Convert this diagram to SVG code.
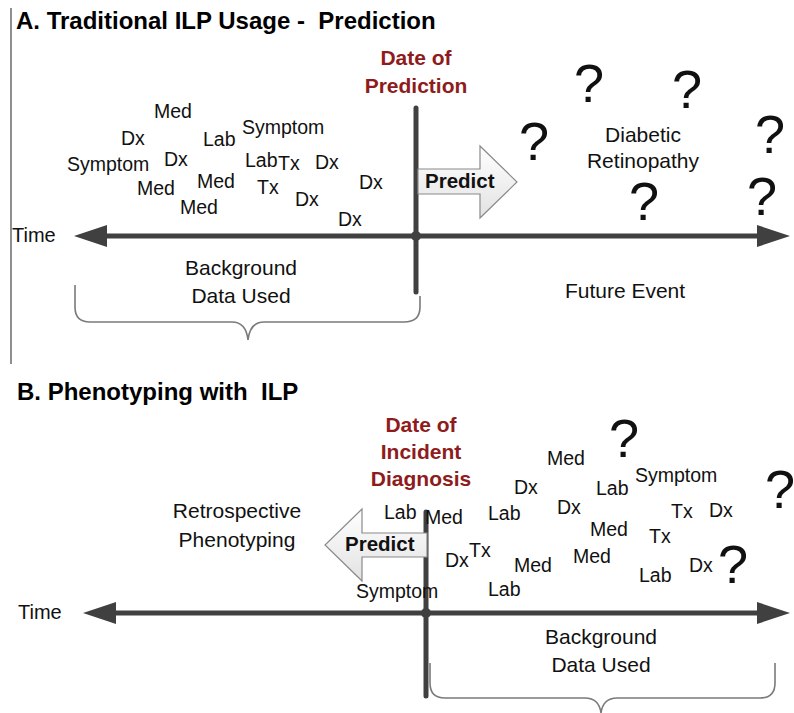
<svg xmlns="http://www.w3.org/2000/svg" width="794" height="713" viewBox="0 0 794 713">
<style>
text{font-family:"Liberation Sans",Arial,sans-serif;fill:#111}
.title{font-size:24px;font-weight:bold;fill:#000}
.w{font-size:19.5px}
.lbl{font-size:21px;text-anchor:middle}
.date{font-size:21px;font-weight:bold;fill:#8e1c1c;text-anchor:middle}
.q{font-size:54px;text-anchor:middle;fill:#111}
.pred{font-size:20.5px;font-weight:bold;fill:#111}
.axis{stroke:#404040;stroke-width:5;fill:none}
.vline{stroke:#404040;stroke-width:5;fill:none;stroke-linecap:round}
.brace{stroke:#7a7a7a;stroke-width:1.6;fill:none}
.parrow{fill:url(#pg);stroke:#8a8a8a;stroke-width:1.2}
</style>
<defs>
<marker id="ah" viewBox="0 0 33 22" refX="7" refY="11" markerWidth="33" markerHeight="22" markerUnits="userSpaceOnUse" orient="auto-start-reverse">
<path d="M0,0 L33,11 L0,22 z" fill="#404040"/>
</marker>
<linearGradient id="pg" x1="0" y1="0" x2="0" y2="1">
<stop offset="0" stop-color="#ffffff"/>
<stop offset="1" stop-color="#e2e2e2"/>
</linearGradient>
</defs>

<line x1="11" y1="8" x2="11" y2="364" stroke="#6a6a6a" stroke-width="1.5"/>

<g id="titleA"><text class="title" x="16" y="29" xml:space="preserve">A. Traditional ILP Usage -  Prediction</text></g>
<g id="titleB"><text class="title" x="17" y="400" xml:space="preserve">B. Phenotyping with  ILP</text></g>

<g id="connectors">
<line class="axis" x1="100" y1="236" x2="764" y2="236" marker-start="url(#ah)" marker-end="url(#ah)"/>
<line class="vline" x1="416" y1="108" x2="416" y2="292"/>
<circle cx="416" cy="236" r="5" fill="#404040"/>
<path class="brace" d="M75,285 L75,307 Q75,322 90,322 L232,322 Q246,322 248,340 Q250,322 264,322 L404,322 Q420,322 420,307 L420,296"/>

<line class="axis" x1="109" y1="613" x2="764" y2="613" marker-start="url(#ah)" marker-end="url(#ah)"/>
<line class="vline" x1="426" y1="512" x2="426" y2="696"/>
<circle cx="426" cy="613" r="5" fill="#404040"/>
<path class="brace" d="M430,663 L430,683 Q430,698 445,698 L585,698 Q599,698 601,713 Q603,698 617,698 L760,698 Q775,698 775,683 L775,663"/>
</g>

<g id="predictA">
<polygon class="parrow" points="418,169 480,169 480,146 517,182 480,218 480,194 418,194"/>
<text class="pred" x="425" y="188">Predict</text>
</g>
<g id="predictB">
<polygon class="parrow" points="427,533 362,533 362,509 325,545 362,581 362,557 427,557"/>
<text class="pred" x="345" y="551">Predict</text>
</g>

<g id="dateA">
<text class="date" x="416" y="65">Date of</text>
<text class="date" x="416" y="93">Prediction</text>
</g>
<g id="dateB">
<text class="date" x="421" y="432">Date of</text>
<text class="date" x="421" y="459">Incident</text>
<text class="date" x="421" y="486">Diagnosis</text>
</g>

<g id="timeA"><text x="12" y="242" style="font-size:20px">Time</text></g>
<g id="timeB"><text x="18" y="619" style="font-size:20px">Time</text></g>

<g id="backgroundA">
<text class="lbl" x="241" y="275">Background</text>
<text class="lbl" x="241" y="303">Data Used</text>
</g>
<g id="futureA"><text class="lbl" x="625" y="298">Future Event</text></g>
<g id="diabetic">
<text class="lbl" x="643" y="142">Diabetic</text>
<text class="lbl" x="643" y="168">Retinopathy</text>
</g>
<g id="retro">
<text class="lbl" x="237" y="518">Retrospective</text>
<text class="lbl" x="237" y="547">Phenotyping</text>
</g>
<g id="backgroundB">
<text class="lbl" x="601" y="644">Background</text>
<text class="lbl" x="601" y="672">Data Used</text>
</g>

<g id="eventsA">
<text class="w" x="154" y="118">Med</text>
<text class="w" x="121" y="145">Dx</text>
<text class="w" x="203" y="146">Lab</text>
<text class="w" x="242" y="134">Symptom</text>
<text class="w" x="67" y="171">Symptom</text>
<text class="w" x="164" y="166">Dx</text>
<text class="w" x="245" y="167">Lab</text>
<text class="w" x="278" y="170">Tx</text>
<text class="w" x="315" y="169">Dx</text>
<text class="w" x="137" y="195">Med</text>
<text class="w" x="197" y="188">Med</text>
<text class="w" x="257" y="194">Tx</text>
<text class="w" x="359" y="189">Dx</text>
<text class="w" x="180" y="214">Med</text>
<text class="w" x="295" y="206">Dx</text>
<text class="w" x="338" y="226">Dx</text>
</g>

<g id="questionsA">
<text class="q" x="589" y="102">?</text>
<text class="q" x="687" y="108">?</text>
<text class="q" x="534" y="160">?</text>
<text class="q" x="770" y="153">?</text>
<text class="q" x="644" y="220">?</text>
<text class="q" x="762" y="215">?</text>
</g>

<g id="eventsB">
<text class="w" x="384" y="519">Lab</text>
<text class="w" x="425" y="524">Med</text>
<text class="w" x="356" y="598">Symptom</text>
<text class="w" x="547" y="465">Med</text>
<text class="w" x="635" y="482">Symptom</text>
<text class="w" x="514" y="494">Dx</text>
<text class="w" x="596" y="495">Lab</text>
<text class="w" x="488" y="520">Lab</text>
<text class="w" x="557" y="514">Dx</text>
<text class="w" x="671" y="518">Tx</text>
<text class="w" x="709" y="517">Dx</text>
<text class="w" x="590" y="536">Med</text>
<text class="w" x="649" y="543">Tx</text>
<text class="w" x="445" y="567">Dx</text>
<text class="w" x="469" y="557">Tx</text>
<text class="w" x="514" y="572">Med</text>
<text class="w" x="573" y="563">Med</text>
<text class="w" x="488" y="596">Lab</text>
<text class="w" x="639" y="582">Lab</text>
<text class="w" x="689" y="572">Dx</text>
</g>

<g id="questionsB">
<text class="q" x="624" y="457">?</text>
<text class="q" x="780" y="508">?</text>
<text class="q" x="733" y="583">?</text>
</g>
</svg>
